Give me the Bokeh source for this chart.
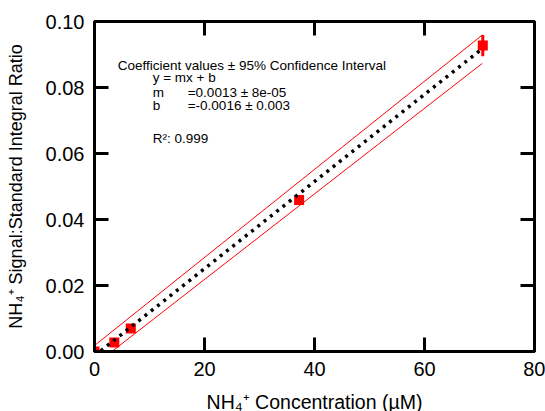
from bokeh.plotting import figure
from bokeh.models import (LinearAxis, Range1d, Label, ColumnDataSource,
                          FixedTicker, PrintfTickFormatter)
from bokeh.embed import file_html
from bokeh.resources import INLINE

# ---- data ----
conc = [0.0, 3.6, 6.6, 37.2, 70.6]            # NH4+ concentration (uM)
ratio = [0.0, 0.0027, 0.0070, 0.0459, 0.0927]  # signal : standard integral ratio
ratio_err = [0.0003, 0.0003, 0.0004, 0.0005, 0.0032]

fit_m = 0.00132
fit_b = -0.0013
fit_x = [0.0, 70.0]

band_x = [0.0, 70.5]
band_upper = [0.0018, 0.0959]
band_lower = [-0.0041, 0.0873]

x_ticks = [0, 20, 40, 60, 80]
y_ticks = [0.00, 0.02, 0.04, 0.06, 0.08, 0.10]

ann_lines = [
    ("Coefficient values \u00b1 95% Confidence Interval", 4.22, 0.0866),
    ("y = mx + b", 10.58, 0.0831),
    ("m", 10.58, 0.0784),
    ("=0.0013 \u00b1 8e-05", 16.95, 0.0784),
    ("b", 10.58, 0.0744),
    ("=-0.0016 \u00b1 0.003", 16.95, 0.0744),
    ("R\u00b2: 0.999", 10.58, 0.0646),
]

FONT = "Liberation Sans"

p = figure(frame_width=440, frame_height=330,
           x_range=Range1d(0, 80), y_range=Range1d(0, 0.1),
           output_backend="svg", toolbar_location=None,
           min_border_left=94, min_border_right=11,
           min_border_top=21, min_border_bottom=60,
           x_axis_label="NH\u2084\u207a Concentration (\u00b5M)",
           y_axis_label="NH\u2084\u207a Signal:Standard Integral Ratio")

p.xgrid.visible = False
p.ygrid.visible = False
p.outline_line_color = "black"
p.outline_line_width = 3
p.background_fill_color = "white"
p.border_fill_color = "white"


def style_axis(ax, show_labels):
    ax.axis_line_width = 3
    ax.axis_line_color = "black"
    ax.major_tick_in = 14
    ax.major_tick_out = 0
    ax.major_tick_line_width = 3
    ax.major_tick_line_color = "black"
    ax.minor_tick_line_color = None
    ax.major_label_text_font = FONT
    ax.major_label_text_color = "black"
    ax.axis_label_text_font = FONT
    ax.axis_label_text_font_style = "normal"
    ax.axis_label_text_color = "black"
    if show_labels:
        ax.major_label_text_font_size = "20px"
    else:
        ax.major_label_text_font_size = "1px"
        ax.major_label_text_color = None
        ax.major_label_text_alpha = 0
        ax.major_label_standoff = 0


p.xaxis.ticker = FixedTicker(ticks=x_ticks)
p.yaxis.ticker = FixedTicker(ticks=y_ticks)
p.yaxis.formatter = PrintfTickFormatter(format="%.2f")
style_axis(p.xaxis[0], True)
style_axis(p.yaxis[0], True)
p.xaxis.axis_label_text_font_size = "19.5px"
p.yaxis.axis_label_text_font_size = "18px"
p.xaxis.major_label_standoff = 10
p.xaxis.axis_label_standoff = 12
p.yaxis.major_label_standoff = 10
p.yaxis.axis_label_standoff = 17

top = LinearAxis(ticker=FixedTicker(ticks=x_ticks))
right = LinearAxis(ticker=FixedTicker(ticks=y_ticks))
style_axis(top, False)
style_axis(right, False)
p.add_layout(top, "above")
p.add_layout(right, "right")

# confidence bands
p.line(band_x, band_upper, line_color="red", line_width=1)
p.line(band_x, band_lower, line_color="red", line_width=1)

# error bars
err_src = ColumnDataSource(data=dict(
    x=conc,
    lo=[r - e for r, e in zip(ratio, ratio_err)],
    hi=[r + e for r, e in zip(ratio, ratio_err)],
))
p.segment(x0="x", y0="lo", x1="x", y1="hi", source=err_src,
          line_color="red", line_width=3)

# data points
p.scatter(conc, ratio, marker="square", size=10, fill_color="red",
          line_color="red", line_width=0)

# fit line
fit_y = [fit_m * x + fit_b for x in fit_x]
p.line(fit_x, fit_y, line_color="black", line_width=3.5, line_dash="3 5")

for txt, x, y in ann_lines:
    p.add_layout(Label(x=x, y=y, text=txt, text_font=FONT,
                       text_font_size="13.5px", text_color="black",
                       text_baseline="alphabetic", text_align="left"))

open("out.html", "w").write(file_html(p, INLINE))
